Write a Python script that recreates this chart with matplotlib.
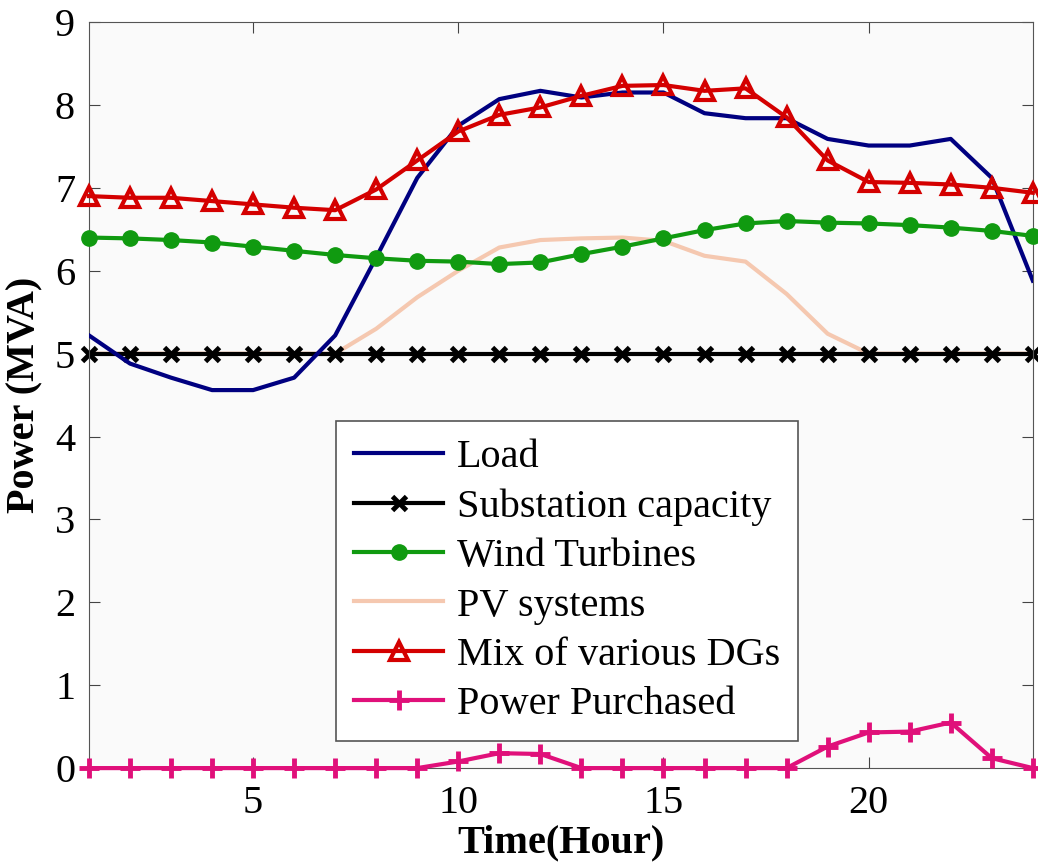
import numpy as np
import matplotlib.pyplot as plt

plt.rcParams['font.family'] = ['Liberation Serif', 'DejaVu Serif']

# Hourly power profiles (MVA)
hours = np.arange(1, 25)
load = [5.22, 4.88, 4.71, 4.56, 4.56, 4.71, 5.22, 6.16, 7.12, 7.75, 8.07, 8.17,
        8.09, 8.15, 8.15, 7.90, 7.84, 7.84, 7.59, 7.51, 7.51, 7.59, 7.12, 5.88]
substation = [5.0] * 24
wind = [6.40, 6.39, 6.37, 6.34, 6.29, 6.24, 6.19, 6.15, 6.12, 6.11, 6.08, 6.10,
        6.20, 6.29, 6.39, 6.49, 6.57, 6.60, 6.58, 6.57, 6.55, 6.52, 6.48, 6.42]
pv = [5.0, 5.0, 5.0, 5.0, 5.0, 5.0, 5.0, 5.30, 5.68, 6.00, 6.28, 6.37,
      6.39, 6.40, 6.36, 6.18, 6.11, 5.72, 5.24, 5.0, 5.0, 5.0, 5.0, 5.0]
mix = [6.90, 6.88, 6.88, 6.84, 6.80, 6.76, 6.73, 6.98, 7.33, 7.68, 7.88, 7.97,
       8.11, 8.23, 8.24, 8.17, 8.20, 7.85, 7.33, 7.07, 7.06, 7.04, 7.00, 6.94]
purchased = [0, 0, 0, 0, 0, 0, 0, 0, 0, 0.08, 0.18, 0.17,
             0, 0, 0, 0, 0, 0, 0.26, 0.43, 0.44, 0.55, 0.12, 0]

fig = plt.figure(figsize=(10.38, 8.64), dpi=100)
ax = fig.add_axes([0.0857, 0.111, 0.9093, 0.8635])
ax.set_facecolor('#fafafa')

ax.plot(hours, load, color='#000080', lw=3, label='Load', zorder=3)
ax.plot(hours, substation, color='black', lw=3, marker='x', ms=10, mew=3.5,
        label='Substation capacity', zorder=2, clip_on=False)
ax.plot(hours, wind, color='#109a10', lw=3, marker='o', ms=11,
        label='Wind Turbines', zorder=3, clip_on=False)
ax.plot(hours, pv, color='#f5c8b0', lw=3, label='PV systems', zorder=1)
ax.plot(hours, mix, color='#d40000', lw=3, marker='^', ms=13, mew=3,
        mfc='none', label='Mix of various DGs', zorder=4, clip_on=False)
ax.plot(hours, purchased, color='#e0107a', lw=3, marker='+', ms=14, mew=3.5,
        label='Power Purchased', zorder=3, clip_on=False)

ax.set_xlim(1, 24)
ax.set_ylim(0, 9)
ax.set_xticks([5, 10, 15, 20])
ax.set_yticks(range(10))
ax.tick_params(direction='in', top=True, right=True, length=8, labelsize=29,
               color='#444444')
ax.tick_params(axis='x', pad=12)
ax.tick_params(axis='y', pad=10)
for s in ax.spines.values():
    s.set_color('#555555')
ax.set_xlabel('Time(Hour)', fontsize=29, fontweight='bold', labelpad=2)
ax.set_ylabel('Power (MVA)', fontsize=29, fontweight='bold', labelpad=8)

leg = ax.legend(loc='lower left', bbox_to_anchor=(0.262, 0.036), fontsize=29,
                handlelength=2.2, labelspacing=0.3, borderaxespad=0,
                fancybox=False, framealpha=1, edgecolor='#555555',
                handletextpad=0.35, borderpad=0.45)
leg.get_frame().set_linewidth(1.2)

fig.savefig('out.png', dpi=100)
